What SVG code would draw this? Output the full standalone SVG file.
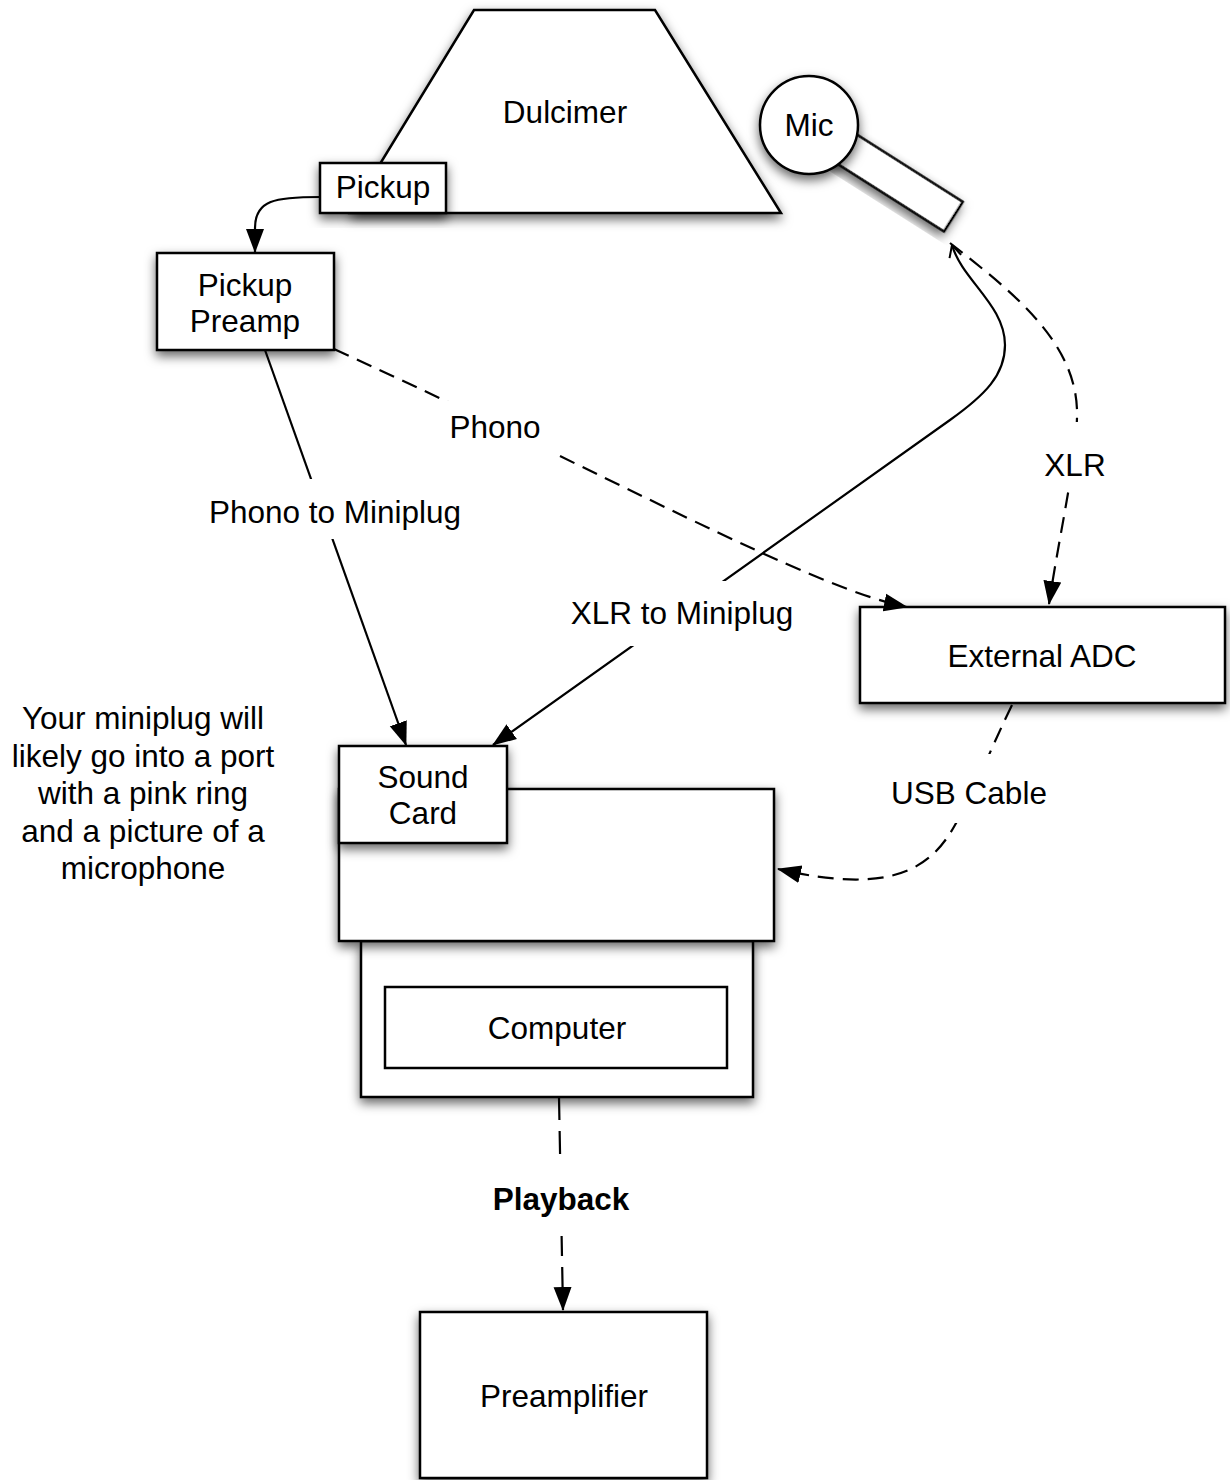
<svg xmlns="http://www.w3.org/2000/svg" width="1230" height="1480" viewBox="0 0 1230 1480">
<style>
  text { font-family: "Liberation Sans", Arial, Helvetica, sans-serif; font-size: 31.5px; fill: #000; text-anchor: middle; }
  .shape { fill: #fff; stroke: #000; stroke-width: 2.5; filter: url(#shadow); }
  .plain { fill: #fff; stroke: #000; stroke-width: 2.5; }
  .line { fill: none; stroke: #000; stroke-width: 2.2; }
  .dash { fill: none; stroke: #000; stroke-width: 2.2; stroke-dasharray: 16 9; }
  .dashlong { fill: none; stroke: #000; stroke-width: 2.2; stroke-dasharray: 23 11; }
  .lblbg { fill: #fff; stroke: none; }
  .bold { font-weight: bold; }
</style>
<defs>
  <filter id="shadow" x="-20%" y="-20%" width="140%" height="150%">
    <feDropShadow dx="0" dy="5" stdDeviation="5.5" flood-color="#000" flood-opacity="0.6"/>
  </filter>
  <marker id="arr" markerUnits="userSpaceOnUse" markerWidth="24" markerHeight="20" viewBox="0 0 24 20" refX="23" refY="10" orient="auto">
    <path d="M0,1 L24,10 L0,19 z" fill="#000"/>
  </marker>
  <marker id="openarr" markerUnits="userSpaceOnUse" markerWidth="14" markerHeight="14" viewBox="0 0 14 14" refX="13" refY="7" orient="auto-start-reverse">
    <path d="M1,1 L13,7 L1,13" fill="none" stroke="#000" stroke-width="2"/>
  </marker>
</defs>
<rect x="0" y="0" width="1230" height="1480" fill="#fff"/>

<g id="dulcimer">
  <polygon class="shape" points="474,10 655,10 781,213 350,213"/>
  <text x="565" y="123">Dulcimer</text>
</g>

<g id="pickup">
  <rect class="shape" x="320" y="163" width="126" height="50"/>
  <text x="383" y="198">Pickup</text>
</g>

<g id="mic">
  <g transform="translate(809,125) rotate(32.4)">
    <rect class="shape" x="0" y="-17.5" width="171" height="35"/>
  </g>
  <circle class="shape" cx="809" cy="125" r="49"/>
  <text x="809" y="136">Mic</text>
</g>

<g id="pickup-preamp">
  <rect class="shape" x="157" y="253" width="177" height="97"/>
  <text x="245" y="296">Pickup</text>
  <text x="245" y="332">Preamp</text>
</g>

<g id="external-adc">
  <rect class="shape" x="860" y="607" width="365" height="96"/>
  <text x="1042" y="667">External ADC</text>
</g>

<g id="computer">
  <rect class="shape" x="361" y="941" width="392" height="156"/>
  <rect class="plain" x="385" y="987" width="342" height="81"/>
  <text x="557" y="1039">Computer</text>
</g>

<g id="sound-card">
  <rect class="shape" x="339" y="789" width="435" height="152"/>
  <rect class="shape" x="339" y="746" width="168" height="97"/>
  <text x="423" y="788">Sound</text>
  <text x="423" y="824">Card</text>
</g>

<g id="preamplifier">
  <rect class="shape" x="420" y="1312" width="287" height="166"/>
  <text x="564" y="1407">Preamplifier</text>
</g>

<g id="note">
  <text x="143" y="729">Your miniplug will</text>
  <text x="143" y="767">likely go into a port</text>
  <text x="143" y="804">with a pink ring</text>
  <text x="143" y="842">and a picture of a</text>
  <text x="143" y="879">microphone</text>
</g>

<g id="connectors">
  <path class="line" d="M320,197 C 275,197 255,200 255,228 L255,252" marker-end="url(#arr)"/>
  <path class="dash" d="M334,349 C 600,470 810,588 907,607" marker-end="url(#arr)"/>
  <path class="line" d="M265,350 L406,745" marker-end="url(#arr)"/>
  <path class="line" d="M952,245 C 962,280 1005,305 1005,345 C 1005,375 985,395 950,420 L493,745" marker-start="url(#openarr)" marker-end="url(#arr)"/>
  <path class="dash" d="M950,243 C 1010,290 1075,340 1077,410 C 1078,455 1060,530 1049,604" marker-end="url(#arr)"/>
  <path class="dash" d="M1012,705 C 990,750 975,790 955,825 C 930,870 890,895 778,869" marker-end="url(#arr)"/>
  <path class="dashlong" d="M559,1097 L563,1310" marker-end="url(#arr)"/>

  <rect class="lblbg" x="432" y="401" width="123" height="56"/>
  <text x="495" y="438">Phono</text>
  <rect class="lblbg" x="195" y="479" width="280" height="60"/>
  <text x="335" y="523">Phono to Miniplug</text>
  <rect class="lblbg" x="1035" y="422" width="80" height="66"/>
  <text x="1075" y="476">XLR</text>
  <rect class="lblbg" x="558" y="581" width="249" height="65"/>
  <text x="682" y="624">XLR to Miniplug</text>
  <rect class="lblbg" x="880" y="754" width="178" height="69"/>
  <text x="969" y="804">USB Cable</text>
  <rect class="lblbg" x="483" y="1160" width="158" height="76"/>
  <text class="bold" x="561" y="1210">Playback</text>
</g>
</svg>
